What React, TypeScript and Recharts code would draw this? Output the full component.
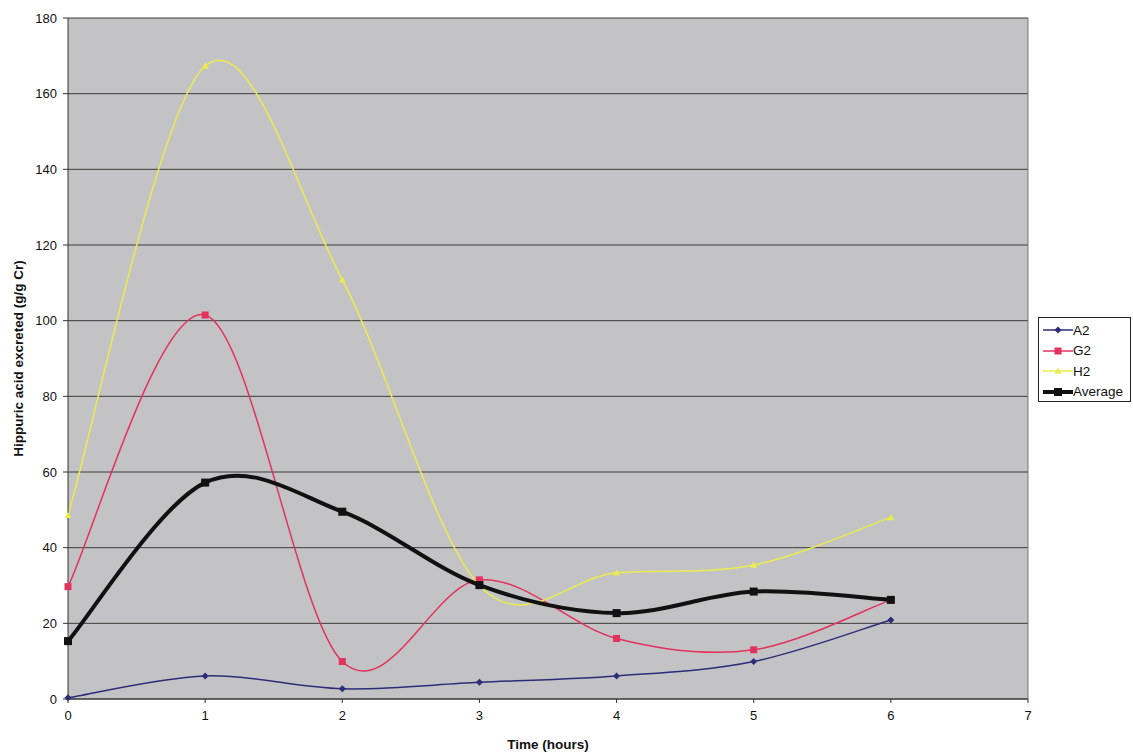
import { LineChart, Line, XAxis, YAxis, CartesianGrid, ReferenceLine } from 'recharts';

const hours = [0, 1, 2, 3, 4, 5, 6];
const a2 = [0.3, 6.1, 2.7, 4.4, 6.1, 9.9, 20.9];
const g2 = [29.7, 101.5, 9.9, 31.5, 16.0, 13.0, 26.2];
const h2 = [48.6, 167.3, 110.8, 30.0, 33.4, 35.4, 48.0];
const average = [15.3, 57.2, 49.5, 30.1, 22.7, 28.4, 26.2];

const xTicks = [0, 1, 2, 3, 4, 5, 6, 7];
const yTicks = [0, 20, 40, 60, 80, 100, 120, 140, 160, 180];

const data = hours.map((hour, i) => ({
  hour,
  A2: a2[i],
  G2: g2[i],
  H2: h2[i],
  Average: average[i],
}));

const FONT = '"Liberation Sans", Arial, sans-serif';

// spreadsheet-style smoothed line (Catmull-Rom through every point)
function smoothCurve(context: any) {
  let xs: number[] = [];
  let ys: number[] = [];
  return {
    areaStart() {},
    areaEnd() {},
    lineStart() {
      xs = [];
      ys = [];
    },
    point(x: number, y: number) {
      xs.push(+x);
      ys.push(+y);
    },
    lineEnd() {
      const n = xs.length;
      if (!n) return;
      context.moveTo(xs[0], ys[0]);
      for (let i = 0; i < n - 1; i++) {
        const i0 = Math.max(i - 1, 0);
        const i3 = Math.min(i + 2, n - 1);
        const c1x = xs[i] + (xs[i + 1] - xs[i0]) / 6;
        const c1y = ys[i] + (ys[i + 1] - ys[i0]) / 6;
        const c2x = xs[i + 1] - (xs[i3] - xs[i]) / 6;
        const c2y = ys[i + 1] - (ys[i3] - ys[i]) / 6;
        context.bezierCurveTo(c1x, c1y, c2x, c2y, xs[i + 1], ys[i + 1]);
      }
    },
  };
}

type Marker = 'diamond' | 'square' | 'triangle';

const series: { key: string; color: string; width: number; marker: Marker; size: number }[] = [
  { key: 'A2', color: '#2c2c78', width: 1.5, marker: 'diamond', size: 3.5 },
  { key: 'G2', color: '#e2325e', width: 1.5, marker: 'square', size: 3.5 },
  { key: 'H2', color: '#ecec4e', width: 1.5, marker: 'triangle', size: 3.5 },
  { key: 'Average', color: '#111111', width: 4, marker: 'square', size: 4 },
];

function markerShape(kind: Marker, cx: number, cy: number, s: number, color: string, key?: string) {
  if (kind === 'diamond') {
    return (
      <polygon
        key={key}
        points={`${cx},${cy - s} ${cx + s},${cy} ${cx},${cy + s} ${cx - s},${cy}`}
        fill={color}
      />
    );
  }
  if (kind === 'triangle') {
    return (
      <polygon
        key={key}
        points={`${cx},${cy - s} ${cx + s},${cy + s * 0.8} ${cx - s},${cy + s * 0.8}`}
        fill={color}
      />
    );
  }
  return <rect key={key} x={cx - s} y={cy - s} width={s * 2} height={s * 2} fill={color} />;
}

function ChartLegend() {
  return (
    <div
      style={{
        position: 'absolute',
        left: 1038,
        top: 317,
        width: 93,
        height: 85,
        border: '1px solid #222',
        background: '#fff',
        boxSizing: 'border-box',
        padding: '2px 0 0 3px',
        fontFamily: FONT,
        fontSize: 13.5,
        color: '#111',
      }}
    >
      {series.map((s) => (
        <div key={s.key} style={{ display: 'flex', alignItems: 'center', height: 20.5 }}>
          <svg width={31} height={12} style={{ marginRight: 0 }}>
            <line x1={1} y1={6} x2={31} y2={6} stroke={s.color} strokeWidth={s.width} />
            {markerShape(s.marker, 16, 6, s.size, s.color)}
          </svg>
          <span>{s.key}</span>
        </div>
      ))}
    </div>
  );
}

export default function App() {
  return (
    <div
      style={{
        position: 'absolute',
        left: 0,
        top: 0,
        width: 1133,
        height: 754,
        background: '#fff',
        fontFamily: FONT,
      }}
    >
      <LineChart width={1133} height={754} data={data} margin={{ top: 18, right: 105, left: 0, bottom: 0 }}>
        <CartesianGrid vertical={false} stroke="#3c3c3c" fill="#c3c3c5" fillOpacity={1} />
        <XAxis
          dataKey="hour"
          type="number"
          domain={[0, 7]}
          ticks={xTicks}
          height={55}
          tickSize={4}
          tickMargin={8}
          stroke="#333"
          tick={{ fill: '#111', fontSize: 13, fontFamily: FONT }}
          label={{
            value: 'Time (hours)',
            position: 'insideBottom',
            offset: 5,
            fill: '#111',
            fontSize: 13.5,
            fontWeight: 'bold',
            fontFamily: FONT,
          }}
        />
        <YAxis
          type="number"
          domain={[0, 180]}
          ticks={yTicks}
          width={68}
          tickSize={5}
          tickMargin={6}
          stroke="#333"
          tick={{ fill: '#111', fontSize: 13, fontFamily: FONT }}
          label={{
            value: 'Hippuric acid excreted (g/g Cr)',
            angle: -90,
            position: 'insideLeft',
            offset: 18,
            fill: '#111',
            fontSize: 13.5,
            fontWeight: 'bold',
            fontFamily: FONT,
            style: { textAnchor: 'middle' },
          }}
        />
        <ReferenceLine x={7} stroke="#777" />
        {series.map((s) => (
          <Line
            key={s.key}
            dataKey={s.key}
            type={smoothCurve as any}
            stroke={s.color}
            strokeWidth={s.width}
            isAnimationActive={false}
            activeDot={false}
            dot={(p: any) => markerShape(s.marker, p.cx, p.cy, s.size, s.color, `${s.key}-${p.index}`)}
          />
        ))}
      </LineChart>
      <ChartLegend />
    </div>
  );
}
